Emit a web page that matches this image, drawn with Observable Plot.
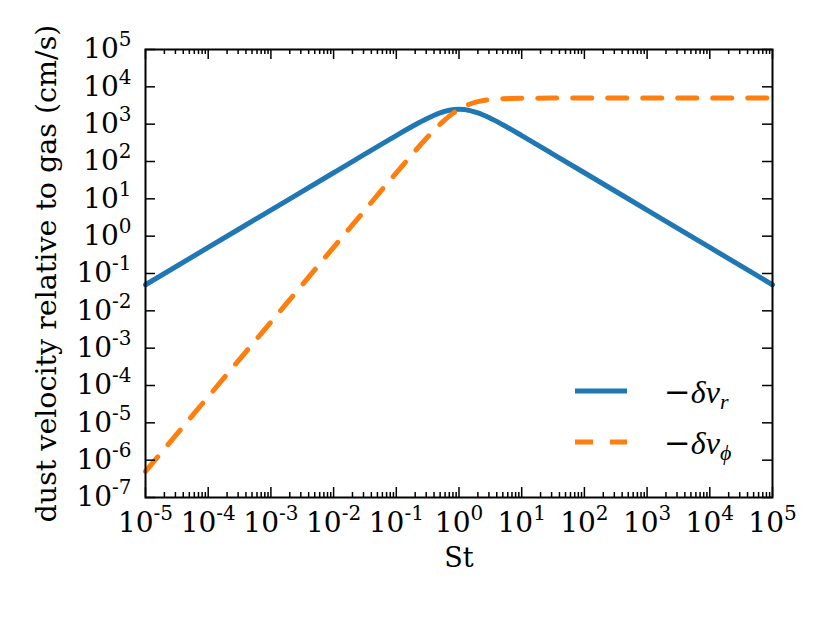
<!DOCTYPE html>
<html><head><meta charset="utf-8">
<script src="https://cdn.jsdelivr.net/npm/d3@7"></script>
<script src="https://cdn.jsdelivr.net/npm/@observablehq/plot@0.6"></script>
<style>body{margin:0;background:#fff}</style>
</head><body><div id="chart"></div>
<script>
// Stokes number samples (x) and read-off velocities (cm/s)
const st    = [1e-5, 1e-4, 1e-3, 1e-2, 0.1, 0.2, 0.3, 0.5, 0.7, 1, 1.5, 2, 3, 5, 10, 30, 100, 1e3, 1e4, 1e5];
const dvR   = [0.05, 0.5, 5, 50, 495, 962, 1376, 2000, 2349, 2500, 2308, 2000, 1500, 962, 495, 166, 50, 5, 0.5, 0.05];
const dvPhi = [5e-7, 5e-5, 5e-3, 0.5, 49.5, 192, 413, 1000, 1644, 2500, 3462, 4000, 4500, 4808, 4950, 4994, 5000, 5000, 5000, 5000];
const xTickExps = [-5, -4, -3, -2, -1, 0, 1, 2, 3, 4, 5];
const yTickExps = [-7, -6, -5, -4, -3, -2, -1, 0, 1, 2, 3, 4, 5];
const xLabel = "St";
const yLabel = "dust velocity relative to gas (cm/s)";
const seriesNames = ["r", "ϕ"];
const seriesColors = ["#1f77b4", "#ff7f0e"];

const W = 830, H = 623, mL = 145, mR = 58, mT = 49, mB = 126;
const iw = W - mL - mR, ih = H - mT - mB;
const rows = st.map((s, i) => ({st: s, r: dvR[i], p: dvPhi[i]}));
const xMajor = xTickExps.map(e => 10 ** e);
const yMajor = yTickExps.map(e => 10 ** e);
const xMinor = [];
xTickExps.slice(0, -1).forEach(e => { for (let k = 2; k <= 9; k++) xMinor.push(k * 10 ** e); });
const fmt = d => "10^" + Math.round(Math.log10(d));
const dash = "19,16";

const plot = Plot.plot({
  width: W, height: H, marginLeft: mL, marginRight: mR, marginTop: mT, marginBottom: mB,
  style: {fontFamily: "DejaVu Serif", fontSize: "26px", background: "white", color: "black"},
  x: {type: "log", domain: [1e-5, 1e5]},
  y: {type: "log", domain: [1e-7, 1e5]},
  marks: [
    Plot.line(rows, {x: "st", y: "r", stroke: seriesColors[0], strokeWidth: 5, curve: "monotone-x"}),
    Plot.line(rows, {x: "st", y: "p", stroke: seriesColors[1], strokeWidth: 5, strokeDasharray: dash, curve: "monotone-x"}),
    Plot.ruleX(xMajor, {insetTop: ih - 10, stroke: "black", strokeWidth: 1.5}),
    Plot.ruleX(xMajor, {insetBottom: ih - 10, stroke: "black", strokeWidth: 1.5}),
    Plot.ruleX(xMinor, {insetTop: ih - 5, stroke: "black", strokeWidth: 1.5}),
    Plot.ruleX(xMinor, {insetBottom: ih - 5, stroke: "black", strokeWidth: 1.5}),
    Plot.ruleY(yMajor, {insetRight: iw - 10, stroke: "black", strokeWidth: 1.5}),
    Plot.ruleY(yMajor, {insetLeft: iw - 10, stroke: "black", strokeWidth: 1.5}),
    Plot.frame({stroke: "black", strokeWidth: 2}),
    Plot.axisX(xMajor, {tickSize: 0, tickPadding: 15, tickFormat: fmt, label: null, fontSize: 28}),
    Plot.axisY(yMajor, {tickSize: 0, tickPadding: 14, tickFormat: fmt, label: null, fontSize: 28}),
    Plot.text([xLabel], {text: d => d, frameAnchor: "bottom", dy: 69, fontSize: 27}),
    Plot.text([yLabel], {text: d => d, frameAnchor: "left", textAnchor: "middle", rotate: -90, dx: -99, fontSize: 28.5})
  ]
});
document.getElementById("chart").appendChild(plot);

// superscript exponents in tick labels
d3.select(plot).selectAll('[aria-label="x-axis tick label"] text, [aria-label="y-axis tick label"] text').each(function() {
  const s = this.textContent;
  const m = s.match(/^10\^(.*)$/);
  if (!m) return;
  const t = d3.select(this);
  t.text(null);
  t.append("tspan").text("10");
  t.append("tspan").attr("font-size", 20).attr("dy", -12).text(m[1]);
});

// legend
const svg = d3.select(plot);
const lg = svg.append("g").attr("text-anchor", "start");
const legY = [391, 442];
seriesNames.forEach((name, i) => {
  lg.append("line").attr("x1", 575).attr("x2", 627).attr("y1", legY[i]).attr("y2", legY[i])
    .attr("stroke", seriesColors[i]).attr("stroke-width", 5)
    .attr("stroke-dasharray", i === 1 ? "18,17" : null);
  const t = lg.append("text").attr("x", 664).attr("y", legY[i] + 12)
    .attr("font-size", 32).attr("fill", "black");
  t.append("tspan").attr("font-family", "DejaVu Serif").text("−");
  t.append("tspan").attr("font-family", "Liberation Serif").attr("font-style", "italic").text("δv");
  t.append("tspan").attr("font-family", "Liberation Serif").attr("font-style", "italic")
    .attr("font-size", 22).attr("dy", 6).text(name);
});
</script>
</body></html>
